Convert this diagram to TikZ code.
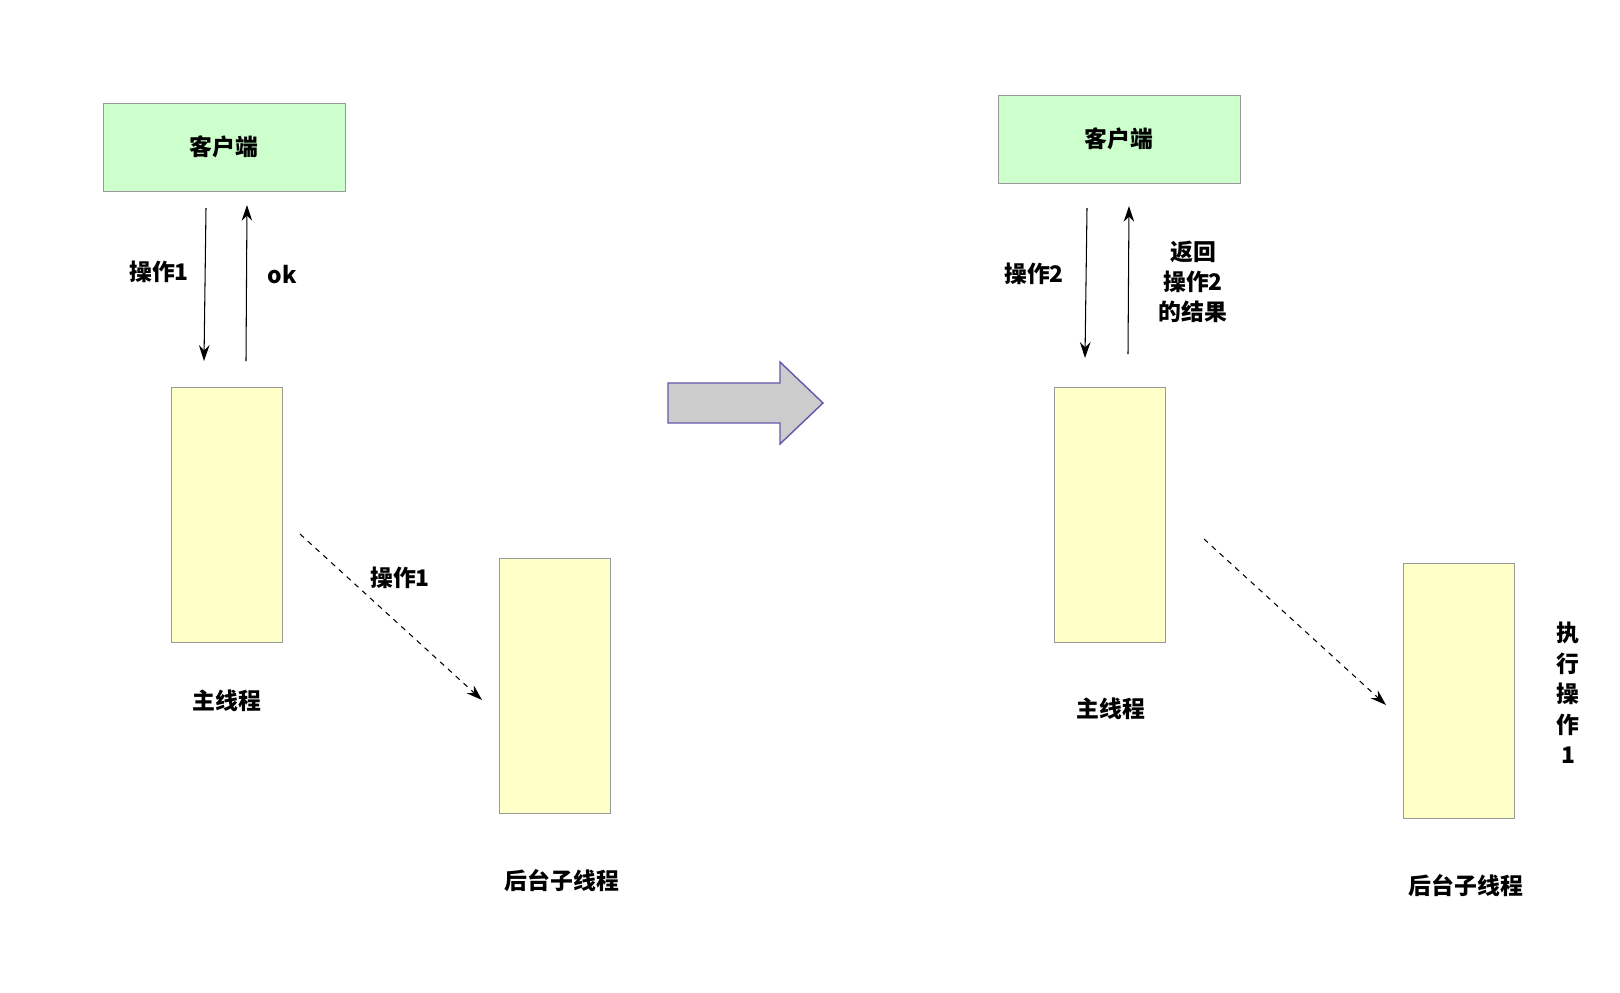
\documentclass[tikz,border=0pt]{standalone}
\usepackage{fontspec}
\setmainfont{Noto Sans CJK SC}
\usetikzlibrary{arrows.meta}
\definecolor{clientgreen}{HTML}{CCFFCC}
\definecolor{threadyellow}{HTML}{FFFFC8}
\definecolor{boxgray}{HTML}{999999}
\definecolor{bigarrowfill}{HTML}{CCCCCC}
\definecolor{bigarrowline}{HTML}{6655AA}
\begin{document}
\begin{tikzpicture}[x=0.02cm,y=-0.02cm]
\tikzstyle{client}=[draw=boxgray,fill=clientgreen,minimum width=4.84cm,minimum height=1.76cm,font=\bfseries\fontsize{13}{15}\selectfont]
\tikzstyle{thread}=[draw=boxgray,fill=threadyellow,minimum width=2.22cm,minimum height=5.1cm]
\tikzstyle{lbl}=[font=\bfseries\fontsize{13}{17}\selectfont,align=center]
\tikzstyle{call}=[-{Stealth[length=9pt,width=6pt]},semithick]
\tikzstyle{async}=[call,dashed]
\useasboundingbox (0,0) rectangle (1620,992);
% left side
\node[client] (clientA) at (224,147) {客户端};
\node[thread] (mainA) at (227,515) {};
\node[thread] (bgA) at (555,686) {};
\coordinate (a1) at (206,208); \coordinate (a2) at (204,361);
\coordinate (a3) at (246,361); \coordinate (a4) at (247,205);
\coordinate (a5) at (300,534); \coordinate (a6) at (482,700);
\draw[call] (a1) -- (a2);
\draw[call] (a3) -- (a4);
\draw[async] (a5) -- (a6);
\node[lbl] (opA) at (159,272) {操作1};
\node[lbl] (okA) at (282,275) {ok};
\node[lbl] (opB) at (400,578) {操作1};
\node[lbl] (mainlblA) at (227,701) {主线程};
\node[lbl] (bglblA) at (562,881) {后台子线程};
% big arrow
\draw[draw=bigarrowline,fill=bigarrowfill,thick] (668,383) -- (780,383) -- (780,362) -- (823,403) -- (780,444) -- (780,423) -- (668,423) -- cycle;
% right side
\node[client] (clientB) at (1119,139) {客户端};
\node[thread] (mainB) at (1110,515) {};
\node[thread] (bgB) at (1459,691) {};
\coordinate (b1) at (1087,208); \coordinate (b2) at (1085,358);
\coordinate (b3) at (1128,354); \coordinate (b4) at (1129,206);
\coordinate (b5) at (1204,539); \coordinate (b6) at (1386,705);
\draw[call] (b1) -- (b2);
\draw[call] (b3) -- (b4);
\draw[async] (b5) -- (b6);
\node[lbl] (opC) at (1034,274) {操作2};
\node[lbl,font=\bfseries\fontsize{13}{17}\selectfont] (retB) at (1193,282) {返回\\操作2\\的结果};
\node[lbl] (mainlblB) at (1111,709) {主线程};
\node[lbl] (bglblB) at (1466,886) {后台子线程};
\node[lbl,font=\bfseries\fontsize{13}{17.4}\selectfont] (execB) at (1568,693) {执\\行\\操\\作\\1};
\end{tikzpicture}
\end{document}
